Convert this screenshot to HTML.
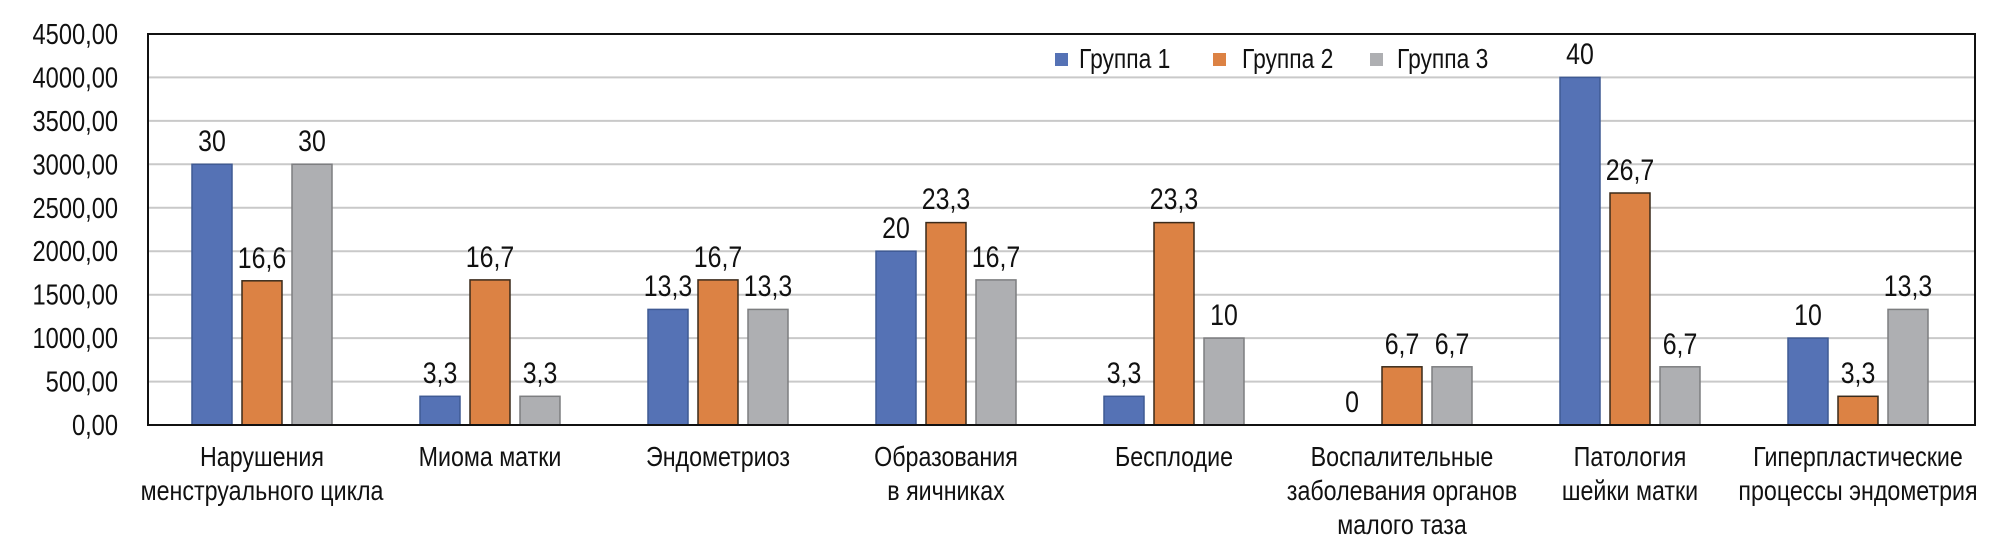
<!DOCTYPE html>
<html><head><meta charset="utf-8"><style>
html,body{margin:0;padding:0;background:#fff;}
svg{display:block;}
text{font-family:"Liberation Sans",sans-serif;fill:#111;transform-box:fill-box;transform:scaleX(0.83);}
.c text{transform-origin:center;}
.r text{transform-origin:right;}
.l text{transform-origin:left;}
</style></head><body>
<svg width="2014" height="546" viewBox="0 0 2014 546" xmlns="http://www.w3.org/2000/svg">
<rect width="2014" height="546" fill="#fff"/>
<g stroke="#c9c9c9" stroke-width="2">
<line x1="148" x2="1975" y1="381.6" y2="381.6"/>
<line x1="148" x2="1975" y1="338.1" y2="338.1"/>
<line x1="148" x2="1975" y1="294.7" y2="294.7"/>
<line x1="148" x2="1975" y1="251.2" y2="251.2"/>
<line x1="148" x2="1975" y1="207.8" y2="207.8"/>
<line x1="148" x2="1975" y1="164.3" y2="164.3"/>
<line x1="148" x2="1975" y1="120.9" y2="120.9"/>
<line x1="148" x2="1975" y1="77.4" y2="77.4"/>
</g>
<g class="r" font-size="28.5" text-anchor="end">
<text x="118" y="435">0,00</text>
<text x="118" y="391.6">500,00</text>
<text x="118" y="348.1">1000,00</text>
<text x="118" y="304.7">1500,00</text>
<text x="118" y="261.2">2000,00</text>
<text x="118" y="217.8">2500,00</text>
<text x="118" y="174.3">3000,00</text>
<text x="118" y="130.9">3500,00</text>
<text x="118" y="87.4">4000,00</text>
<text x="118" y="44">4500,00</text>
</g>
<g stroke-width="1.5">
<rect x="192" y="164.3" width="40" height="260.7" fill="#5572b5" stroke="#3f5a94"/>
<rect x="242" y="280.8" width="40" height="144.2" fill="#dc8244" stroke="#3a2a1a"/>
<rect x="292" y="164.3" width="40" height="260.7" fill="#aeafb2" stroke="#7d7e80"/>
<rect x="420" y="396.3" width="40" height="28.7" fill="#5572b5" stroke="#3f5a94"/>
<rect x="470" y="279.9" width="40" height="145.1" fill="#dc8244" stroke="#3a2a1a"/>
<rect x="520" y="396.3" width="40" height="28.7" fill="#aeafb2" stroke="#7d7e80"/>
<rect x="648" y="309.4" width="40" height="115.6" fill="#5572b5" stroke="#3f5a94"/>
<rect x="698" y="279.9" width="40" height="145.1" fill="#dc8244" stroke="#3a2a1a"/>
<rect x="748" y="309.4" width="40" height="115.6" fill="#aeafb2" stroke="#7d7e80"/>
<rect x="876" y="251.2" width="40" height="173.8" fill="#5572b5" stroke="#3f5a94"/>
<rect x="926" y="222.6" width="40" height="202.4" fill="#dc8244" stroke="#3a2a1a"/>
<rect x="976" y="279.9" width="40" height="145.1" fill="#aeafb2" stroke="#7d7e80"/>
<rect x="1104" y="396.3" width="40" height="28.7" fill="#5572b5" stroke="#3f5a94"/>
<rect x="1154" y="222.6" width="40" height="202.4" fill="#dc8244" stroke="#3a2a1a"/>
<rect x="1204" y="338.1" width="40" height="86.9" fill="#aeafb2" stroke="#7d7e80"/>
<rect x="1382" y="366.8" width="40" height="58.2" fill="#dc8244" stroke="#3a2a1a"/>
<rect x="1432" y="366.8" width="40" height="58.2" fill="#aeafb2" stroke="#7d7e80"/>
<rect x="1560" y="77.4" width="40" height="347.6" fill="#5572b5" stroke="#3f5a94"/>
<rect x="1610" y="193.0" width="40" height="232.0" fill="#dc8244" stroke="#3a2a1a"/>
<rect x="1660" y="366.8" width="40" height="58.2" fill="#aeafb2" stroke="#7d7e80"/>
<rect x="1788" y="338.1" width="40" height="86.9" fill="#5572b5" stroke="#3f5a94"/>
<rect x="1838" y="396.3" width="40" height="28.7" fill="#dc8244" stroke="#3a2a1a"/>
<rect x="1888" y="309.4" width="40" height="115.6" fill="#aeafb2" stroke="#7d7e80"/>
</g>
<rect x="148" y="34" width="1827" height="391" fill="none" stroke="#111" stroke-width="2"/>
<g class="c" font-size="30" text-anchor="middle">
<text x="212" y="151">30</text><text x="262" y="268">16,6</text><text x="312" y="151">30</text>
<text x="440" y="383">3,3</text><text x="490" y="267">16,7</text><text x="540" y="383">3,3</text>
<text x="668" y="296">13,3</text><text x="718" y="267">16,7</text><text x="768" y="296">13,3</text>
<text x="896" y="238">20</text><text x="946" y="209">23,3</text><text x="996" y="267">16,7</text>
<text x="1124" y="383">3,3</text><text x="1174" y="209">23,3</text><text x="1224" y="325">10</text>
<text x="1352" y="412">0</text><text x="1402" y="354">6,7</text><text x="1452" y="354">6,7</text>
<text x="1580" y="64">40</text><text x="1630" y="180">26,7</text><text x="1680" y="354">6,7</text>
<text x="1808" y="325">10</text><text x="1858" y="383">3,3</text><text x="1908" y="296">13,3</text>
</g>
<g class="c" font-size="28" text-anchor="middle">
<text x="262" y="466">Нарушения</text><text x="262" y="500">менструального цикла</text>
<text x="490" y="466">Миома матки</text>
<text x="718" y="466">Эндометриоз</text>
<text x="946" y="466">Образования</text><text x="946" y="500">в яичниках</text>
<text x="1174" y="466">Бесплодие</text>
<text x="1402" y="466">Воспалительные</text><text x="1402" y="500">заболевания органов</text><text x="1402" y="534">малого таза</text>
<text x="1630" y="466">Патология</text><text x="1630" y="500">шейки матки</text>
<text x="1858" y="466">Гиперпластические</text><text x="1858" y="500">процессы эндометрия</text>
</g>
<rect x="1055" y="53" width="13" height="13" fill="#5572b5"/>
<rect x="1213" y="53" width="13" height="13" fill="#dc8244"/>
<rect x="1370" y="53" width="13" height="13" fill="#aeafb2"/>
<g class="l" font-size="27.5">
<text x="1079" y="68">Группа 1</text>
<text x="1242" y="68">Группа 2</text>
<text x="1397" y="68">Группа 3</text>
</g>
</svg>
</body></html>
